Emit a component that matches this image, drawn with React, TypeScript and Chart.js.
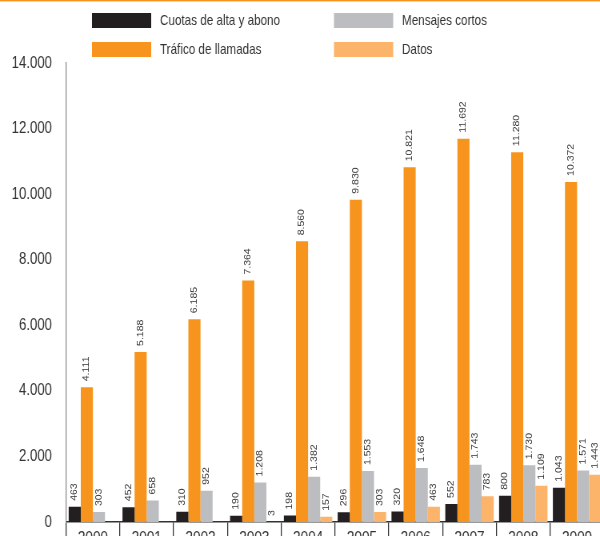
import React, { useEffect, useRef } from "react";
import { Chart, registerables } from "chart.js";

Chart.register(...registerables);

const years = ["2000", "2001", "2002", "2003", "2004", "2005", "2006", "2007", "2008", "2009"];
const cuotas = [463, 452, 310, 190, 198, 296, 320, 552, 800, 1043];
const trafico = [4111, 5188, 6185, 7364, 8560, 9830, 10821, 11692, 11280, 10372];
const mensajes = [303, 658, 952, 1208, 1382, 1553, 1648, 1743, 1730, 1571];
const datos = [null, null, null, 3, 157, 303, 463, 783, 1109, 1443];
const seriesNames = ["Cuotas de alta y abono", "Tráfico de llamadas", "Mensajes cortos", "Datos"];
const seriesColors = ["#231f20", "#f7941d", "#bcbdc0", "#fbb469"];
const yTicks = [0, 2000, 4000, 6000, 8000, 10000, 12000, 14000];

const FONT = "'Liberation Sans', Arial, Helvetica, sans-serif";
const TEXT = "#333333";

const fmt = (n: number) => String(n).replace(/\B(?=(\d{3})+(?!\d))/g, ".");

const valueLabels = {
  id: "valueLabels",
  afterDatasetsDraw(chart: any) {
    const ctx = chart.ctx;
    ctx.save();
    ctx.fillStyle = TEXT;
    ctx.font = `10.5px ${FONT}`;
    ctx.textAlign = "left";
    ctx.textBaseline = "middle";
    chart.data.datasets.forEach((ds: any, di: number) => {
      const meta = chart.getDatasetMeta(di);
      meta.data.forEach((el: any, i: number) => {
        const v = ds.data[i];
        if (v === null || v === undefined) return;
        ctx.save();
        ctx.translate(el.x, el.y - 6);
        ctx.rotate(-Math.PI / 2);
        ctx.fillText(fmt(v), 0, 0);
        ctx.restore();
      });
    });
    ctx.restore();
  },
};

const customLegend = {
  id: "customLegend",
  afterDraw(chart: any) {
    const ctx = chart.ctx;
    ctx.save();
    ctx.fillStyle = "#f7941d";
    ctx.fillRect(0, 0, chart.width, 1.4);
    const cols = [115, 417.5];
    const rows = [13, 42];
    const order = [0, 2, 1, 3];
    ctx.font = `14.6px ${FONT}`;
    ctx.textBaseline = "middle";
    ctx.textAlign = "left";
    order.forEach((si, k) => {
      const x = cols[k % 2];
      const y = rows[Math.floor(k / 2)];
      ctx.fillStyle = seriesColors[si];
      ctx.fillRect(x, y, 74, 15);
      ctx.fillStyle = TEXT;
      ctx.fillText(seriesNames[si], x + 85, y + 8);
    });
    ctx.restore();
  },
};

export default function App() {
  const ref = useRef<HTMLCanvasElement | null>(null);
  useEffect(() => {
    if (!ref.current) return;
    const allData = [cuotas, trafico, mensajes, datos];
    const chart = new Chart(ref.current, {
      type: "bar",
      data: {
        labels: years,
        datasets: allData.map((d, i) => ({
          label: seriesNames[i],
          data: d as any,
          backgroundColor: seriesColors[i],
          borderWidth: 0,
          categoryPercentage: 0.9,
          barPercentage: 1,
        })),
      },
      options: {
        animation: false,
        responsive: false,
        devicePixelRatio: 1,
        layout: { padding: { top: 63, right: 5, left: 0, bottom: 0 } },
        plugins: { legend: { display: false }, tooltip: { enabled: false } },
        scales: {
          x: {
            afterFit(scale: any) {
              scale.height = 14;
            },
            grid: {
              display: true,
              drawOnChartArea: false,
              drawTicks: true,
              tickLength: 14,
              color: "#333333",
              lineWidth: 1.25,
              offset: true,
            },
            border: { display: true, color: "#333333", width: 1.5 },
            ticks: { color: TEXT, font: { family: FONT, size: 17 }, padding: -8, maxRotation: 0 },
          },
          y: {
            min: 0,
            max: 14000,
            afterFit(scale: any) {
              scale.width = 82.5;
            },
            afterBuildTicks(scale: any) {
              scale.ticks = yTicks.map((v) => ({ value: v }));
            },
            grid: { display: false, drawTicks: true, tickLength: 17.5 },
            border: { display: true, color: "#8a8a8a", width: 1.25 },
            ticks: {
              color: TEXT,
              font: { family: FONT, size: 16.5 },
              padding: 0,
              callback: (v: any) => fmt(Number(v)),
            },
          },
        },
      },
      plugins: [valueLabels, customLegend],
    });
    return () => chart.destroy();
  }, []);

  return (
    <div
      style={{
        position: "fixed",
        left: 0,
        top: 0,
        width: 600,
        height: 536,
        overflow: "hidden",
        background: "#ffffff",
      }}
    >
      <div style={{ width: 760, height: 536, transform: "scaleX(0.8)", transformOrigin: "0 0" }}>
        <canvas ref={ref} width={760} height={536} style={{ display: "block" }} />
      </div>
    </div>
  );
}
